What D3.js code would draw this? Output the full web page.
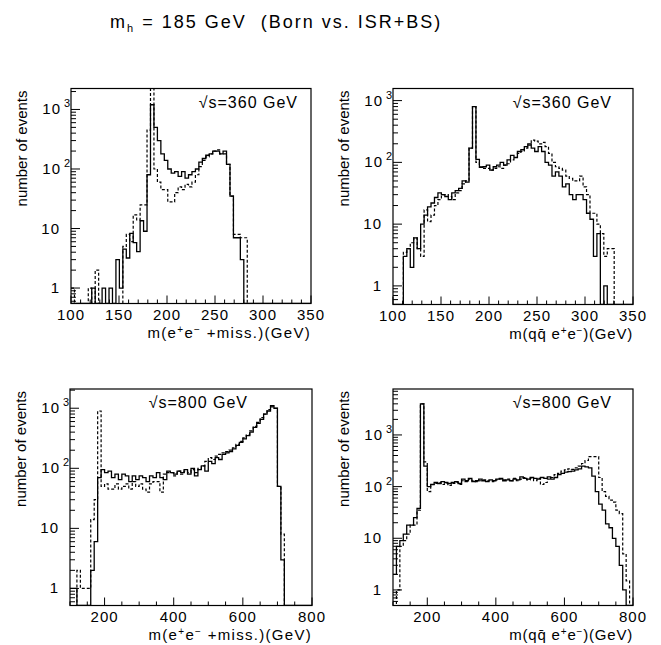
<!DOCTYPE html>
<html>
<head>
<meta charset="utf-8">
<script src="https://cdnjs.cloudflare.com/ajax/libs/d3/7.8.5/d3.min.js"></script>
<style>
body { margin: 0; background: #fff; }
text { font-family: "Liberation Sans", Arial, sans-serif; fill: #000; white-space: pre; }
</style>
</head>
<body>
<svg id="chart" width="661" height="645"></svg>
<script>
// histogram bins start at 100 GeV; 3.6 GeV wide at 360 GeV, 10 GeV wide at 800 GeV
const binStart = 100;
const binWidth360 = 3.6;
const binWidth800 = 10;

const xTicks360 = [100, 150, 200, 250, 300, 350];
const xTicks800 = [200, 400, 600, 800];
const yTickLabels = [1, 10, 100, 1000];

// sqrt(s)=360, m(e+e- + miss.)
const born360e = [0,0,0,0,0,0,1,0,0,1, 0,1,0,3,1,4.5,3.2,8.3,5.8,4.1,
  13.5,9,80,1200,500,300,180,140,100,85, 90,75,90,70,80,90,100,130,150,170,
  180,200,200,180,200,120,35,7,7,3, 0,0,0,0,0,0,0,0,0,0, 0,0,0,0,0,0,0,0,0,0];
const isr360e = [1,0,0,0,0,1,0,2,0,0, 0,0,0,0,0,5,8,6,17,14,
  25,25,450,2500,100,60,45,45,28,28, 40,50,45,55,50,60,80,110,140,160,
  180,200,210,180,180,120,35,8,8,7, 7,0,0,0,0,0,0,0,0,0, 0,0,0,0,0,0,0,0,0,0];

// sqrt(s)=360, m(q qbar e+e-)
const born360q = [0,0,0,3,4,2,6,4,10,14, 19,22,27,32,30,28,25,32,35,38,
  50,48,170,800,112,83,85,90,75,85, 90,100,90,110,130,120,150,160,180,200,
  170,150,180,150,100,90,60,70,60,40, 45,30,25,30,30,25,15,12,3,7, 0,1,0,0,0,0,0,0,0,0];
const isr360q = [0,0,0,3.5,4,5,6,4,3,17, 11,14,20,25,30,30,28,25,32,35,
  45,50,170,800,100,85,80,80,75,80, 85,80,90,95,110,120,140,150,170,190,
  230,220,200,210,180,140,100,85,80,75, 60,55,50,50,60,40,30,15,15,10, 7,3,4,4,0,0,0,0,0,0];

// sqrt(s)=800, m(e+e- + miss.)
const born800e = [1,1,0,0,0,0,2,6,70,95, 85,90,70,80,65,80,75,60,75,65,
  75,70,60,75,70,85,70,65,90,85, 80,90,85,95,80,100,75,95,110,90,
  130,120,150,140,170,180,190,210,240,270, 310,350,400,480,560,650,800,900,1100,1000,
  50,3,0,0,0,0,0,0,0,0];
const isr800e = [0,0,2,1,1,1,14,30,900,50, 55,45,45,55,45,50,55,45,60,50,
  55,45,40,55,60,60,40,80,85,85, 75,90,80,90,85,95,85,100,110,130,
  150,140,160,170,180,190,200,220,250,280, 320,360,420,500,580,700,800,950,1050,1000,
  50,8,0,0,0,0,0,0,0,0];

// sqrt(s)=800, m(q qbar e+e-)
const born800q = [2,7,9,12,18,18,25,38,4000,250, 100,110,120,115,125,120,115,120,125,115,
  140,130,145,125,130,140,130,125,135,130, 140,145,130,135,130,140,135,155,145,140,
  150,145,140,150,145,155,140,150,170,180, 190,195,200,210,220,250,240,230,160,80,
  46,35,19,16,10,7,3,1,0,0];
const isr800q = [0,1,7,9,12,18,18,35,4000,300, 80,110,115,120,110,115,105,115,120,110,
  130,125,140,130,125,130,135,130,130,125, 135,140,135,140,130,145,130,140,150,135,
  145,130,145,110,120,140,150,170,180,200, 210,220,215,230,250,280,320,380,380,380,
  150,80,65,55,50,35,30,5,1.5,0];

const panels = [
  { born: born360e, isr: isr360e, binWidth: binWidth360, xDomain: [100, 350], yDomain: [0.55, 2250],
    xTicks: xTicks360, minorStep: 10, left: 71, right: 311, top: 88.5, bottom: 303.5,
    energy: '360', ex: 298, ey: 108, xTitle: 'e' },
  { born: born360q, isr: isr360q, binWidth: binWidth360, xDomain: [100, 350], yDomain: [0.5, 1570],
    xTicks: xTicks360, minorStep: 10, left: 393, right: 633, top: 88.5, bottom: 304.5,
    energy: '360', ex: 612, ey: 108, xTitle: 'q' },
  { born: born800e, isr: isr800e, binWidth: binWidth800, xDomain: [100, 800], yDomain: [0.52, 2090],
    xTicks: xTicks800, minorStep: 50, left: 70, right: 312, top: 389, bottom: 605.5,
    energy: '800', ex: 248, ey: 408, xTitle: 'e' },
  { born: born800q, isr: isr800q, binWidth: binWidth800, xDomain: [100, 800], yDomain: [0.5, 7750],
    xTicks: xTicks800, minorStep: 50, left: 393, right: 633, top: 389, bottom: 605.5,
    energy: '800', ex: 612, ey: 408, xTitle: 'q' }
];

const svg = d3.select('#chart');

// title
const title = svg.append('text')
  .attr('x', 110).attr('y', 28)
  .style('font-size', '18px').style('letter-spacing', '2px');
title.append('tspan').text('m');
title.append('tspan').attr('dy', 4).style('font-size', '11px').text('h');
title.append('tspan').attr('dy', -4).text(' = 185 GeV  (Born vs. ISR+BS)');

function histPath(vals, width, x, y) {
  const lo = y.domain()[0] * 0.5;
  const pts = [];
  vals.forEach((v, i) => {
    const a = binStart + i * width;
    const b = a + width;
    const yy = y(v > 0 ? v : lo);
    pts.push([x(a), yy], [x(b), yy]);
  });
  return d3.line()(pts);
}

// parts: [text, isSuperscript]
function supText(sel, parts, size) {
  let raised = false;
  parts.forEach(([t, s]) => {
    const sp = sel.append('tspan').text(t);
    if (s) {
      sp.attr('dy', raised ? 0 : -5).style('font-size', (size - 5) + 'px');
      raised = true;
    } else {
      sp.attr('dy', raised ? 5 : 0);
      raised = false;
    }
  });
}

panels.forEach((p, k) => {
  const x = d3.scaleLinear().domain(p.xDomain).range([p.left, p.right]).clamp(true);
  const y = d3.scaleLog().domain(p.yDomain).range([p.bottom, p.top]).clamp(true);
  const g = svg.append('g');

  g.append('clipPath').attr('id', 'clip' + k)
    .append('rect')
    .attr('x', p.left).attr('y', p.top)
    .attr('width', p.right - p.left).attr('height', p.bottom - p.top);

  const plot = g.append('g').attr('clip-path', 'url(#clip' + k + ')');
  plot.append('path')
    .attr('d', histPath(p.isr, p.binWidth, x, y))
    .attr('fill', 'none').attr('stroke', '#000')
    .attr('stroke-width', 1.2).attr('stroke-dasharray', '3,2');
  plot.append('path')
    .attr('d', histPath(p.born, p.binWidth, x, y))
    .attr('fill', 'none').attr('stroke', '#000')
    .attr('stroke-width', 1.3);

  // frame
  g.append('rect')
    .attr('x', p.left).attr('y', p.top)
    .attr('width', p.right - p.left).attr('height', p.bottom - p.top)
    .attr('fill', 'none').attr('stroke', '#000').attr('stroke-width', 1.2);

  // log y ticks
  const lo = Math.floor(Math.log10(p.yDomain[0]));
  const hi = Math.ceil(Math.log10(p.yDomain[1]));
  for (let e = lo; e <= hi; e++) {
    for (let m = 1; m <= 9; m++) {
      const v = m * Math.pow(10, e);
      if (v < p.yDomain[0] || v > p.yDomain[1]) continue;
      g.append('line')
        .attr('x1', p.left).attr('x2', p.left + (m === 1 ? 9 : 5))
        .attr('y1', y(v)).attr('y2', y(v))
        .attr('stroke', '#000').attr('stroke-width', 1);
    }
  }
  yTickLabels.forEach((v) => {
    const yy = y(v);
    if (v < 100) {
      g.append('text').attr('x', p.left - 11).attr('y', yy + 5)
        .attr('text-anchor', 'end').style('font-size', '15px').style('letter-spacing', '1px')
        .text(String(v));
    } else {
      g.append('text').attr('x', p.left - 10).attr('y', yy + 5)
        .attr('text-anchor', 'end').style('font-size', '15px').style('letter-spacing', '1px')
        .text('10');
      g.append('text').attr('x', p.left - 7).attr('y', yy - 2)
        .style('font-size', '11px').text(String(Math.round(Math.log10(v))));
    }
  });

  // x ticks
  d3.range(p.xDomain[0], p.xDomain[1] + 0.01, p.minorStep).forEach((v) => {
    const major = p.xTicks.includes(v);
    g.append('line')
      .attr('x1', x(v)).attr('x2', x(v))
      .attr('y1', p.bottom).attr('y2', p.bottom - (major ? 8 : 4))
      .attr('stroke', '#000').attr('stroke-width', 1);
  });
  p.xTicks.forEach((v) => {
    g.append('text').attr('x', x(v)).attr('y', p.bottom + 16)
      .attr('text-anchor', 'middle').style('font-size', '15px').style('letter-spacing', '1px')
      .text(String(v));
  });

  // axis titles
  g.append('text')
    .attr('transform', 'translate(' + (p.left - 44) + ',' + (p.top + 2) + ') rotate(-90)')
    .attr('text-anchor', 'end').style('font-size', '15px').text('number of events');

  const xt = g.append('text').attr('x', p.right).attr('y', p.bottom + 34)
    .attr('text-anchor', 'end').style('font-size', '15px');
  if (p.xTitle === 'e') {
    xt.style('letter-spacing', '1.3px');
    supText(xt, [['m(e', 0], ['+', 1], ['e', 0], ['\u2212', 1], [' +miss.)(GeV)', 0]], 15);
  } else {
    xt.style('letter-spacing', '0.8px');
    supText(xt, [['m(qq\u0304 e', 0], ['+', 1], ['e', 0], ['\u2212', 1], [')(GeV)', 0]], 15);
  }

  g.append('text').attr('x', p.ex).attr('y', p.ey)
    .attr('text-anchor', 'end').style('font-size', '16px').style('letter-spacing', '1px')
    .text('\u221As=' + p.energy + ' GeV');
});
</script>
</body>
</html>
